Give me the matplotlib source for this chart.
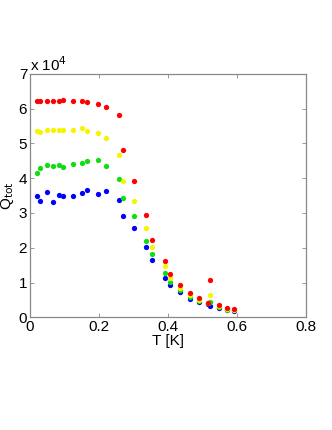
import matplotlib
matplotlib.use('Agg')
import matplotlib.pyplot as plt
import numpy as np

plt.rcParams['font.family'] = ['Liberation Sans', 'DejaVu Sans']

# temperatures [K] (shared grid)
T = [0.019, 0.029, 0.048, 0.067, 0.085, 0.095, 0.124, 0.150, 0.166, 0.198,
     0.220, 0.257, 0.270, 0.302, 0.337, 0.355, 0.392, 0.407, 0.436, 0.464,
     0.491, 0.515, 0.523, 0.549, 0.571, 0.592]

# Q_tot in units of 1e4
q_blue = [3.49, 3.35, 3.60, 3.31, 3.51, 3.50, 3.50, 3.58, 3.67, 3.54,
          3.63, 3.37, 2.91, 2.58, 2.01, 1.64, 1.14, 0.93, 0.74, 0.54,
          0.44, 0.38, 0.32, 0.26, 0.21, 0.18]
q_green = [4.16, 4.29, 4.38, 4.36, 4.38, 4.33, 4.41, 4.43, 4.49, 4.52,
           4.35, 3.98, 3.42, 2.92, 2.18, 1.81, 1.27, 1.02, 0.79, 0.59,
           0.47, 0.40, 0.43, 0.29, 0.22, 0.20]
q_yellow = [5.36, 5.33, 5.39, 5.38, 5.38, 5.37, 5.38, 5.43, 5.35, 5.31,
            5.15, 4.66, 3.91, 3.33, 2.58, 2.02, 1.48, 1.14, 0.85, 0.63,
            0.50, 0.42, 0.64, 0.32, 0.23, 0.21]
q_red = [6.23, 6.23, 6.21, 6.21, 6.23, 6.24, 6.23, 6.22, 6.20, 6.12,
         6.04, 5.80, 4.82, 3.92, 2.95, 2.23, 1.62, 1.24, 0.92, 0.70,
         0.55, 0.42, 1.07, 0.35, 0.28, 0.23]

fig = plt.figure(figsize=(3.32, 4.30), dpi=100)
ax = fig.add_axes([0.0904, 0.262, 0.8313, 0.5666])

series = [(q_blue, '#0000ff'), (q_green, '#11dd11'),
          (q_yellow, '#f5f500'), (q_red, '#ff0000')]
for q, c in series:
    ax.plot(T, q, 'o', color=c, markersize=3.8, markeredgewidth=0)

ax.set_xlim(0, 0.8)
ax.set_ylim(0, 7)
ax.set_xticks([0, 0.2, 0.4, 0.6, 0.8])
ax.set_xticklabels(['0', '0.2', '0.4', '0.6', '0.8'])
ax.set_yticks(range(8))
ax.tick_params(direction='in', length=3, width=0.6, color='#888888',
               top=True, right=True, labelsize=11, pad=2)
for s in ax.spines.values():
    s.set_color('#888888')
    s.set_linewidth(0.9)

ax.set_xlabel('T [K]', fontsize=11, labelpad=0)
ax.set_ylabel(r'Q$_{\mathrm{tot}}$', fontsize=11, labelpad=2)
ax.text(0.0, 1.0, r'x 10$^4$', transform=ax.transAxes, fontsize=11,
        ha='left', va='bottom')

fig.savefig('out.png', dpi=100)
